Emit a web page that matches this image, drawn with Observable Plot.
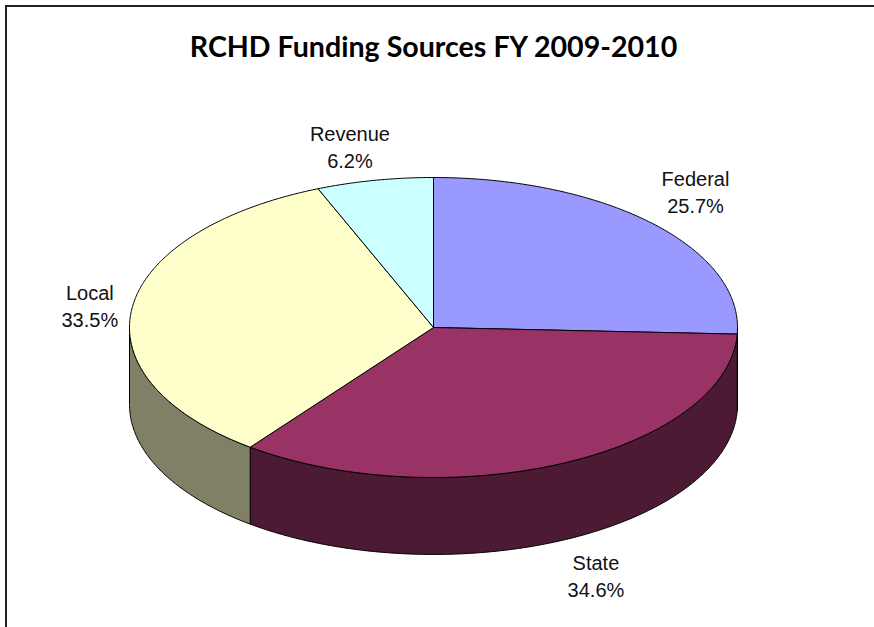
<!DOCTYPE html>
<html>
<head>
<meta charset="utf-8">
<script src="https://cdn.jsdelivr.net/npm/d3@7"></script>
<script src="https://cdn.jsdelivr.net/npm/@observablehq/plot@0.6"></script>
<style>
  html, body { margin: 0; background: #fff; overflow: hidden; }
  #chart { position: relative; width: 874px; height: 627px; }
  #chart svg { display: block; position: absolute; left: 0; top: 0; }
  #border { position: absolute; left: 5px; top: 5px; right: 0; bottom: 0;
            border-left: 2px solid #222; border-top: 2px solid #222; }
</style>
</head>
<body>
<div id="chart"><div id="border"></div></div>
<script>
const chartTitle = "RCHD Funding Sources FY 2009-2010";
const sources = ["Federal", "State", "Local", "Revenue"];
const shares = [25.7, 34.6, 33.5, 6.2];
const fills = ["#9999FF", "#993366", "#FFFFCC", "#CCFFFF"];

// Layout of the tilted pie, in pie-radius units
const thickness = 0.513;
const labelRadius = {Federal: [1.193, 1.319], State: [1.255, 1.252], Local: [1.14, 1.155], Revenue: [1.42, 1.237]};

const total = d3.sum(shares);
const slices = [];
let running = 0;
sources.forEach((name, i) => {
  const a0 = running / total * 360;
  running += shares[i];
  slices.push({name, share: shares[i], a0, a1: running / total * 360, fill: fills[i]});
});

const px = a => Math.sin(a * Math.PI / 180);
const py = a => Math.cos(a * Math.PI / 180);
const sweep = (a0, a1) => {
  const out = d3.range(a0, a1, 0.5);
  out.push(a1);
  return out;
};
const halve = c => {
  const r = d3.rgb(c);
  return d3.rgb(r.r / 2, r.g / 2, r.b / 2).formatHex();
};

const tops = [], sides = [];
for (const s of slices) {
  const key = s.name;
  tops.push({key, fill: s.fill, x: 0, y: 0});
  for (const a of sweep(s.a0, s.a1)) tops.push({key, fill: s.fill, x: px(a), y: py(a)});
  tops.push({key, fill: s.fill, x: 0, y: 0});

  const f0 = Math.max(s.a0, 90), f1 = Math.min(s.a1, 270);
  if (f1 > f0) {
    const arc = sweep(f0, f1);
    const fill = halve(s.fill);
    for (const a of arc) sides.push({key, fill, x: px(a), y: py(a)});
    for (const a of arc.slice().reverse()) sides.push({key, fill, x: px(a), y: py(a) - thickness});
    sides.push({key, fill, x: px(f0), y: py(f0)});
  }
}

const labels = slices.map(s => {
  const mid = (s.a0 + s.a1) / 2;
  const [rx, ry] = labelRadius[s.name];
  return {
    text: `${s.name}\n${s.share.toFixed(1)}%`,
    x: rx * px(mid),
    y: ry * py(mid) - (py(mid) < 0 ? thickness : 0)
  };
});

const wedge = data => Plot.line(data, {
  x: "x", y: "y", z: "key", fill: "fill", stroke: "#000", strokeWidth: 1, curve: "linear"
});

const plot = Plot.plot({
  width: 874,
  height: 627,
  margin: 0,
  style: {background: "transparent"},
  x: {domain: [-1, 1], range: [129, 737], axis: null},
  y: {domain: [1, -1], range: [177, 477], axis: null},
  color: {type: "identity"},
  marks: [
    wedge(sides),
    wedge(tops),
    Plot.text(labels, {
      x: "x", y: "y", text: "text", fontSize: 20, lineHeight: 1.35,
      fontFamily: "Liberation Sans", fill: "#111"
    }),
    Plot.text([chartTitle], {
      x: () => 0, frameAnchor: "top", lineAnchor: "middle", dy: 47,
      fontSize: 28.6, fontWeight: 700, fontFamily: "Lato", fill: "#000"
    })
  ]
});
document.getElementById("chart").appendChild(plot);
</script>
</body>
</html>
